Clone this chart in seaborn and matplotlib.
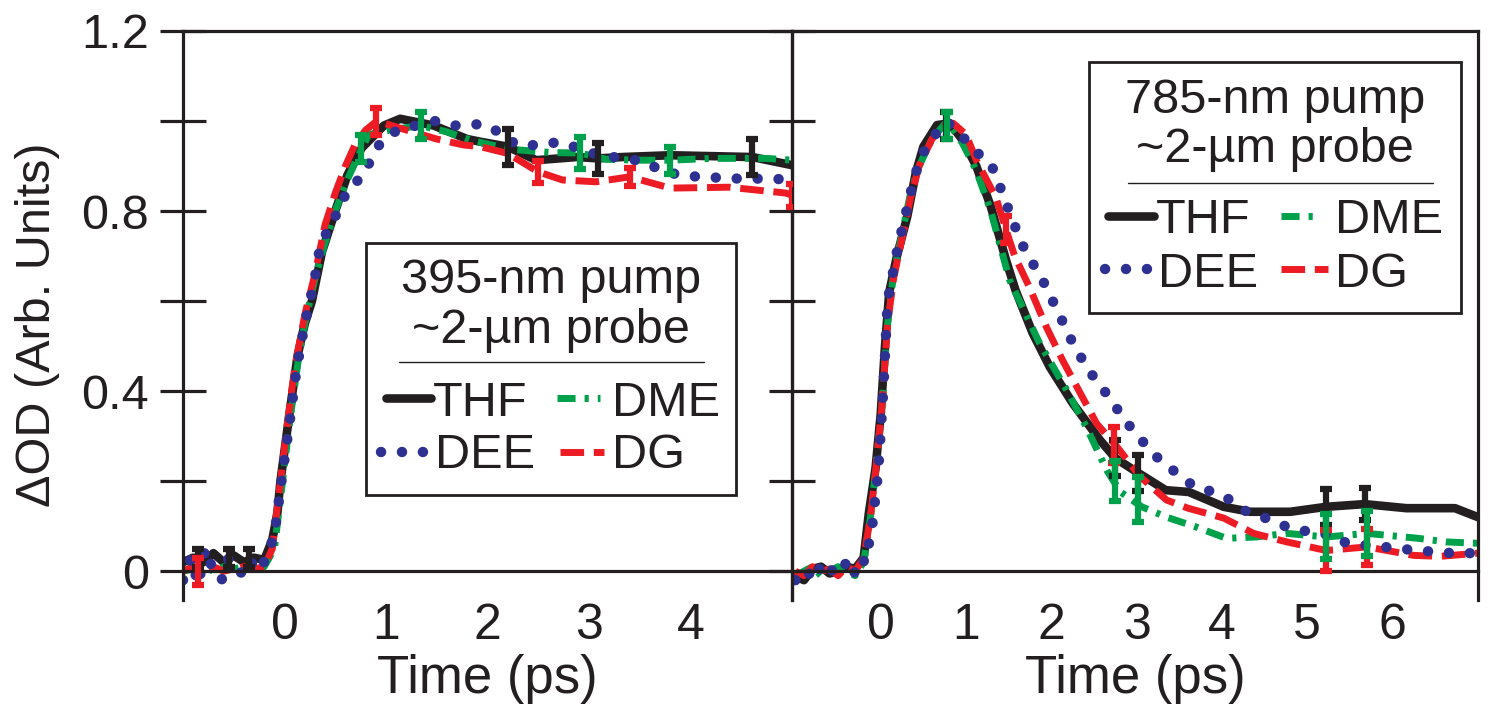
import matplotlib
matplotlib.use('Agg')
import matplotlib.pyplot as plt
import seaborn as sns
from matplotlib.lines import Line2D
from matplotlib.patches import Rectangle

# ---------------- data ----------------
# left panel: 395-nm pump
t_l_thf = [-1.0, -0.9, -0.8, -0.7, -0.6, -0.5, -0.4, -0.3, -0.2, -0.12, -0.07, -0.04, 0.04, 0.08, 0.13,
           0.2, 0.27, 0.37, 0.5, 0.62, 0.76, 0.98, 1.14, 1.47, 1.8, 1.93, 2.2, 2.48, 2.88, 3.09, 3.33,
           3.8, 4.61, 5.0]
od_l_thf = [0.02, 0.03, 0.02, 0.04, 0.02, 0.035, 0.02, 0.03, 0.025, 0.07, 0.13, 0.2, 0.335, 0.4, 0.48,
            0.55, 0.6, 0.71, 0.8, 0.88, 0.94, 0.99, 1.005, 0.99, 0.96, 0.954, 0.943, 0.913, 0.92, 0.917,
            0.92, 0.924, 0.92, 0.902]

t_l_dg = [-1.0, -0.9, -0.8, -0.7, -0.6, -0.5, -0.4, -0.3, -0.2, -0.12, -0.05, 0.03, 0.1, 0.2, 0.3, 0.4,
          0.5, 0.6, 0.7, 0.8, 0.91, 1.2, 1.5, 1.76, 1.93, 2.2, 2.5, 2.74, 3.07, 3.4, 3.8, 4.38, 4.94, 5.0]
od_l_dg = [0.0, 0.01, -0.01, 0.01, 0.0, 0.005, 0.01, 0.005, 0.01, 0.05, 0.18, 0.33, 0.45, 0.57, 0.66,
           0.77, 0.84, 0.9, 0.95, 0.98, 1.0, 0.98, 0.96, 0.947, 0.943, 0.928, 0.887, 0.869, 0.865, 0.876,
           0.851, 0.853, 0.84, 0.835]

t_l_dee = [-1.0, -0.92, -0.85, -0.78, -0.7, -0.62, -0.55, -0.48, -0.4, -0.33, -0.25, -0.18, -0.1, -0.03,
           0.05, 0.12, 0.2, 0.29, 0.35, 0.43, 0.53, 0.62, 0.76, 0.94, 1.11, 1.3, 1.48, 1.68, 1.88, 2.04,
           2.19, 2.37, 2.57, 2.76, 2.94, 3.14, 3.33, 3.53, 3.71, 3.89, 4.09, 4.29, 4.48, 4.68, 4.88, 5.0]
od_l_dee = [-0.02, 0.03, -0.03, 0.05, 0.0, -0.02, 0.03, 0.01, -0.01, 0.02, 0.0, 0.03, 0.08, 0.2, 0.33,
            0.45, 0.55, 0.64, 0.72, 0.76, 0.8, 0.847, 0.876, 0.95, 0.98, 0.99, 1.0, 0.99, 0.993, 0.987,
            0.958, 0.943, 0.952, 0.951, 0.935, 0.922, 0.918, 0.91, 0.891, 0.88, 0.876, 0.874, 0.872,
            0.872, 0.871, 0.87]

t_l_dme = [-1.0, -0.9, -0.8, -0.7, -0.6, -0.5, -0.4, -0.3, -0.2, -0.1, -0.03, 0.05, 0.13, 0.2, 0.3, 0.4,
           0.5, 0.6, 0.7, 0.83, 1.04, 1.34, 1.6, 1.83, 2.03, 2.29, 2.63, 2.91, 3.17, 3.5, 3.8, 4.22, 4.75, 5.0]
od_l_dme = [0.0, 0.005, 0.01, 0.0, 0.01, 0.005, 0.01, 0.01, 0.01, 0.05, 0.18, 0.33, 0.46, 0.55, 0.65,
            0.73, 0.8, 0.86, 0.91, 0.97, 0.98, 0.99, 0.976, 0.958, 0.947, 0.936, 0.93, 0.929, 0.915,
            0.913, 0.913, 0.917, 0.917, 0.913]

# right panel: 785-nm pump
t_r_thf = [-1.0, -0.9, -0.8, -0.7, -0.6, -0.5, -0.4, -0.3, -0.2, -0.14, -0.06, 0.0, 0.05, 0.1, 0.19, 0.31,
           0.41, 0.5, 0.66, 0.81, 0.96, 1.12, 1.29, 1.47, 1.58, 1.78, 1.98, 2.25, 2.57, 2.75, 3.02, 3.34,
           3.61, 4.02, 4.33, 4.8, 5.22, 5.67, 6.16, 6.73, 7.0]
od_r_thf = [-0.01, -0.02, 0.005, 0.01, -0.005, 0.0, 0.01, 0.005, 0.03, 0.128, 0.23, 0.35, 0.5, 0.62, 0.7,
            0.787, 0.884, 0.943, 0.991, 0.995, 0.958, 0.9, 0.81, 0.69, 0.624, 0.529, 0.454, 0.373, 0.291,
            0.251, 0.218, 0.18, 0.176, 0.143, 0.132, 0.132, 0.143, 0.149, 0.14, 0.14, 0.12]

t_r_dg = [-1.0, -0.9, -0.8, -0.7, -0.6, -0.5, -0.4, -0.3, -0.2, -0.12, -0.05, 0.02, 0.08, 0.15, 0.25, 0.35,
          0.45, 0.6, 0.75, 0.85, 1.0, 1.12, 1.35, 1.5, 1.57, 1.74, 1.94, 2.13, 2.34, 2.53, 2.77, 3.04, 3.35,
          3.6, 4.02, 4.37, 4.76, 5.22, 5.7, 6.25, 6.56, 7.0]
od_r_dg = [0.0, -0.01, 0.01, 0.0, 0.005, -0.01, 0.01, 0.0, 0.03, 0.12, 0.24, 0.38, 0.55, 0.65, 0.74, 0.83,
           0.9, 0.96, 0.99, 0.995, 0.97, 0.913, 0.83, 0.74, 0.7, 0.632, 0.543, 0.469, 0.395, 0.328, 0.276,
           0.21, 0.158, 0.14, 0.118, 0.084, 0.065, 0.046, 0.054, 0.035, 0.033, 0.04]

t_r_dee = [-1.0, -0.92, -0.85, -0.77, -0.7, -0.62, -0.55, -0.47, -0.4, -0.32, -0.25, -0.18, -0.1, -0.03,
           0.03, 0.08, 0.14, 0.2, 0.3, 0.4, 0.5, 0.6, 0.7, 0.77, 0.85, 0.96, 1.14, 1.29, 1.39, 1.47, 1.56,
           1.64, 1.76, 1.88, 1.98, 2.09, 2.18, 2.3, 2.41, 2.55, 2.69, 2.83, 2.97, 3.14, 3.29, 3.47, 3.68,
           3.9, 4.1, 4.29, 4.51, 4.74, 4.95, 5.19, 5.42, 5.66, 5.9, 6.13, 6.37, 6.6, 6.83, 7.0]
od_r_dee = [-0.02, 0.0, -0.01, 0.02, 0.0, -0.015, 0.01, 0.0, 0.02, -0.01, 0.03, 0.02, 0.1, 0.22, 0.4, 0.6,
            0.66, 0.72, 0.8, 0.88, 0.93, 0.96, 0.985, 1.0, 0.985, 0.965, 0.928, 0.906, 0.858, 0.817, 0.773,
            0.732, 0.69, 0.654, 0.613, 0.573, 0.532, 0.491, 0.454, 0.417, 0.384, 0.343, 0.31, 0.273,
            0.243, 0.218, 0.187, 0.176, 0.158, 0.132, 0.118, 0.1, 0.09, 0.084, 0.065, 0.058, 0.054,
            0.049, 0.045, 0.041, 0.04, 0.04]

t_r_dme = [-1.0, -0.9, -0.8, -0.7, -0.6, -0.5, -0.4, -0.3, -0.2, -0.12, -0.05, 0.02, 0.08, 0.15, 0.25, 0.35,
           0.45, 0.6, 0.78, 0.96, 1.12, 1.29, 1.51, 1.86, 2.18, 2.41, 2.65, 2.81, 3.06, 3.35, 3.7, 4.05,
           4.4, 4.76, 5.22, 5.7, 6.3, 6.63, 7.0]
od_r_dme = [-0.01, 0.0, 0.01, -0.01, 0.0, 0.01, 0.0, -0.01, 0.02, 0.12, 0.24, 0.38, 0.55, 0.66, 0.75, 0.84,
            0.9, 0.96, 1.0, 0.95, 0.89, 0.8, 0.647, 0.507, 0.402, 0.32, 0.224, 0.176, 0.143, 0.12, 0.098,
            0.073, 0.076, 0.084, 0.076, 0.084, 0.073, 0.065, 0.062]

# error bars (time, value, half-width)
eb_l_thf = ([-0.85, -0.55, -0.35, 2.2, 3.09, 4.61], [0.03, 0.03, 0.03, 0.943, 0.917, 0.92],
            [0.02, 0.02, 0.02, 0.04, 0.035, 0.04])
eb_l_dg = ([-0.85, 0.9, 2.5, 3.4, 5.0], [0.0, 1.0, 0.887, 0.876, 0.835], [0.03, 0.03, 0.025, 0.02, 0.025])
eb_l_dme = ([0.75, 1.34, 2.91, 3.8], [0.94, 0.99, 0.929, 0.913], [0.03, 0.03, 0.035, 0.03])
eb_r_thf = ([0.77, 2.75, 3.02, 5.22, 5.67], [0.99, 0.251, 0.218, 0.143, 0.149], [0.03, 0.04, 0.04, 0.04, 0.035])
eb_r_dg = ([1.47, 2.73, 5.22, 5.7], [0.76, 0.28, 0.046, 0.054], [0.03, 0.04, 0.045, 0.04])
eb_r_dme = ([0.78, 2.75, 3.02, 5.22, 5.7], [0.99, 0.2, 0.16, 0.076, 0.084], [0.03, 0.045, 0.05, 0.05, 0.05])

y_ticks = [0, 0.2, 0.4, 0.6, 0.8, 1.0, 1.2]
y_ticklabels = ['0', '', '0.4', '', '0.8', '', '1.2']

# ---------------- style ----------------
sns.set_theme(style='white')
plt.rcParams['font.family'] = ['Liberation Sans', 'DejaVu Sans']
ink = '#231f20'

styles = {
    'THF': dict(color=ink, linewidth=6.2, linestyle='-'),
    'DEE': dict(color='#2e3192', linewidth=7.5, linestyle=(0, (0.01, 2.0)), dash_capstyle='round'),
    'DME': dict(color='#00a14b', linewidth=5.0, linestyle=(0, (2.6, 1.3, 0.6, 1.3))),
    'DG': dict(color='#ed1c24', linewidth=5.0, linestyle=(0, (3.4, 1.4))),
}

W, H = 1494, 719
fig = plt.figure(figsize=(W / 100, H / 100), dpi=100)


def fx(px):
    return px / W


def fy(py):
    return 1 - py / H


ax_l = fig.add_axes([fx(183), fy(600), fx(792) - fx(183), fy(31) - fy(600)])
ax_r = fig.add_axes([fx(792), fy(600), fx(1478) - fx(792), fy(31) - fy(600)])


def draw_panel(ax, curves, bars):
    for name, t, od in curves:
        sns.lineplot(x=t, y=od, ax=ax, errorbar=None, sort=False, legend=False, **styles[name])
    for name, (t, od, err) in bars:
        ax.errorbar(t, od, yerr=err, fmt='none', ecolor=styles[name]['color'],
                    elinewidth=4.5, capsize=4.5, capthick=4.5, zorder=3)


draw_panel(ax_l,
           [('THF', t_l_thf, od_l_thf), ('DME', t_l_dme, od_l_dme),
            ('DG', t_l_dg, od_l_dg), ('DEE', t_l_dee, od_l_dee)],
           [('THF', eb_l_thf), ('DG', eb_l_dg), ('DME', eb_l_dme)])
draw_panel(ax_r,
           [('THF', t_r_thf, od_r_thf), ('DME', t_r_dme, od_r_dme),
            ('DG', t_r_dg, od_r_dg), ('DEE', t_r_dee, od_r_dee)],
           [('THF', eb_r_thf), ('DG', eb_r_dg), ('DME', eb_r_dme)])

for ax in (ax_l, ax_r):
    ax.set_ylim(-0.064, 1.2)
    ax.set_xlabel('')
    ax.set_ylabel('')
    ax.spines['bottom'].set_position(('data', 0))
    for s in ax.spines.values():
        s.set_color(ink)
        s.set_linewidth(2.3)
    ax.tick_params(axis='x', direction='inout', length=36, width=2.3, color=ink,
                   labelsize=36, pad=5, labelcolor=ink)

ax_l.set_xlim(-1, 5)
ax_l.set_xticks([-1, 0, 1, 2, 3, 4, 5], ['', '0', '1', '2', '3', '4', ''])
ax_l.set_yticks(y_ticks, y_ticklabels)
ax_l.tick_params(axis='y', direction='inout', length=33, width=2.3, color=ink,
                 labelsize=35, pad=8, labelcolor=ink, left=True, right=True)

ax_r.set_xlim(-1.04, 7)
ax_r.set_xticks([0, 1, 2, 3, 4, 5, 6, 7], ['0', '1', '2', '3', '4', '5', '6', ''])
ax_r.set_yticks([])

ax_l.set_zorder(2)
ax_l.patch.set_visible(False)

for ax in (ax_l, ax_r):
    ax.set_xlabel('Time (ps)', fontsize=38, color=ink)
    ax.xaxis.set_label_coords(0.5, -0.095)
    ax.xaxis.label.set_va('top')

fig.text(fx(38), fy(325), 'ΔOD (Arb. Units)', rotation=90, ha='center', va='center',
         fontsize=35, color=ink)


def draw_key(box, titles, sep, rows):
    x0, y0, x1, y1 = box
    fig.add_artist(Rectangle((fx(x0), fy(y1)), fx(x1) - fx(x0), fy(y0) - fy(y1),
                             transform=fig.transFigure, facecolor='white', edgecolor=ink,
                             linewidth=2, zorder=5))
    for text, xc, yb in titles:
        fig.text(fx(xc), fy(yb), text, ha='center', va='baseline', fontsize=35, color=ink, zorder=6)
    fig.add_artist(Line2D([fx(sep[0]), fx(sep[1])], [fy(sep[2])] * 2, transform=fig.transFigure,
                          color=ink, linewidth=1, zorder=6))
    for name, xa, xb, ys, xt, yb in rows:
        fig.add_artist(Line2D([fx(xa), fx(xb)], [fy(ys)] * 2, transform=fig.transFigure,
                              zorder=6, **styles[name]))
        fig.text(fx(xt), fy(yb), name, ha='left', va='baseline', fontsize=35, color=ink, zorder=6)


draw_key((366, 243, 736, 495),
         [('395-nm pump', 551, 293), ('~2-µm probe', 551, 343)],
         (399, 704, 362),
         [('THF', 386, 431, 398, 433, 416), ('DME', 557, 600, 398, 612, 416),
          ('DEE', 381, 431, 452, 435, 468), ('DG', 560, 604, 452, 612, 468)])
draw_key((1089, 62, 1461, 313),
         [('785-nm pump', 1275, 113), ('~2-µm probe', 1275, 162)],
         (1128, 1433, 183),
         [('THF', 1108, 1154, 216, 1156, 233), ('DME', 1281, 1321, 216, 1335, 233),
          ('DEE', 1105, 1154, 269, 1158, 287), ('DG', 1281, 1328, 269, 1335, 287)])

fig.savefig('out.png', dpi=100)
